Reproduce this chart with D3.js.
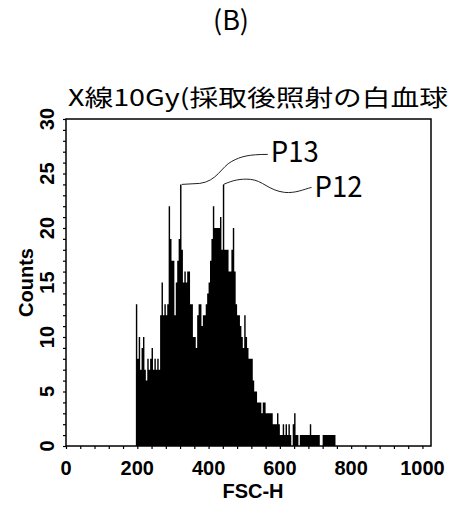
<!DOCTYPE html>
<html>
<head>
<meta charset="utf-8">
<script src="https://cdn.jsdelivr.net/npm/d3@7.9.0/dist/d3.min.js"></script>
<style>
  html, body { margin: 0; padding: 0; background: #fff; }
  svg { display: block; }
  .tick-label { font-family: "Liberation Sans", Arial, sans-serif; font-size: 20px; font-weight: bold; fill: #000; }
  .jp { font-family: "Noto Sans CJK JP", sans-serif; fill: #000; }
</style>
</head>
<body>
<svg id="chart" width="451" height="508"></svg>
<script>
// histogram of FSC-H, bins 4 channels wide starting at 196
const binWidth = 4;
const binStarts = d3.range(196, 756, binWidth);
const counts = [
  13, 8, 10, 7, 9, 10, 7, 6, 8, 7, 8, 9, 7, 8, 7, 8, 7, 12, 15, 12,
  13, 12, 13, 22, 19, 17, 17, 12, 15, 17, 19, 24, 18, 15, 16, 15, 16, 16, 13, 13,
  10, 10, 9, 12, 13, 13, 11, 12, 12, 13, 14, 15, 17, 19, 22, 20, 20, 20, 20, 21,
  18, 24, 18, 18, 18, 16, 16, 18, 20, 16, 13, 12, 12, 11, 10, 9, 12, 10, 9, 8,
  8, 8, 6, 5, 5, 4, 4, 4, 3, 4, 4, 3, 3, 3, 3, 3, 2, 2, 2, 3,
  2, 1, 1, 2, 1, 2, 1, 2, 1, 0, 2, 3, 1, 1, 0, 1, 1, 1, 1, 1,
  1, 1, 2, 1, 1, 1, 1, 1, 1, 0, 0, 1, 1, 1, 1, 1, 1, 1, 1, 1
];
const xTicks = [0, 200, 400, 600, 800, 1000];
const yTicks = [0, 5, 10, 15, 20, 25, 30];
const peaks = [
  { label: 'P13', at: 320 },
  { label: 'P12', at: 440 }
];

const bins = binStarts.map((s, i) => ({ x0: s, x1: s + binWidth, n: counts[i] }));

const svg = d3.select('#chart');
const plotL = 66, plotR = 431, plotT = 119, plotB = 446;

const x = d3.scaleLinear().domain([0, 1024]).range([plotL, plotR]);
const y = d3.scaleLinear().domain([0, 30]).range([plotB, plotT]);

// title lines
svg.append('text').attr('class', 'jp')
  .attr('x', 231).attr('y', 30)
  .attr('text-anchor', 'middle')
  .style('font-size', '27px')
  .text('(B)');

svg.append('text').attr('class', 'jp')
  .attr('x', 68).attr('y', 106)
  .attr('textLength', 380).attr('lengthAdjust', 'spacingAndGlyphs')
  .style('font-size', '23px')
  .text('X線10Gy(採取後照射の白血球');

// histogram as a step area
let pts = [];
bins.forEach((b) => {
  pts.push([b.x0, b.n]);
  pts.push([b.x1, b.n]);
});
const area = d3.area()
  .x((d) => x(d[0]))
  .y0(y(0))
  .y1((d) => y(d[1]));
svg.append('path')
  .attr('d', area(pts))
  .attr('fill', '#000');

// frame
svg.append('rect')
  .attr('x', plotL).attr('y', plotT)
  .attr('width', plotR - plotL).attr('height', plotB - plotT)
  .attr('fill', 'none').attr('stroke', '#000').attr('stroke-width', 1.5);

// x axis
const xAxis = d3.axisBottom(x)
  .tickValues(d3.range(0, 1001, 40))
  .tickSize(3)
  .tickFormat('');
const gx = svg.append('g').attr('transform', `translate(0,${plotB})`).call(xAxis);
gx.select('.domain').remove();
gx.selectAll('line').attr('stroke', '#000').attr('stroke-width', 1.2);

svg.selectAll('.xlab').data(xTicks).join('text')
  .attr('class', 'tick-label')
  .attr('x', (d) => x(d)).attr('y', 475)
  .attr('text-anchor', 'middle')
  .text((d) => d);

svg.append('text').attr('class', 'tick-label')
  .attr('x', 253).attr('y', 498)
  .attr('text-anchor', 'middle')
  .text('FSC-H');

// y axis
const yAxis = d3.axisLeft(y)
  .tickValues(d3.range(0, 31, 1))
  .tickSize(3)
  .tickFormat('');
const gy = svg.append('g').attr('transform', `translate(${plotL},0)`).call(yAxis);
gy.select('.domain').remove();
gy.selectAll('line').attr('stroke', '#000').attr('stroke-width', 1.2);

svg.selectAll('.ylab').data(yTicks).join('text')
  .attr('class', 'tick-label')
  .attr('transform', (d) => `translate(54,${y(d)}) rotate(-90)`)
  .attr('text-anchor', 'middle')
  .text((d) => d);

svg.append('text').attr('class', 'tick-label')
  .attr('transform', `translate(33,${(plotT + plotB) / 2}) rotate(-90)`)
  .attr('text-anchor', 'middle')
  .text('Counts');

// peak annotations
const p13 = peaks[0], p12 = peaks[1];
const n13 = counts[binStarts.indexOf(p13.at)];
const n12 = counts[binStarts.indexOf(p12.at)];
const ax = x(p13.at + 2), ay = y(n13);
const bx = x(p12.at + 2), by = y(n12);

svg.append('path')
  .attr('d', `M${ax + 1},${ay} L${ax + 19},${ay - 1} C${ax + 36},${ay - 3} ${ax + 41},${ay - 18} ${ax + 51},${ay - 23} C${ax + 60},${ay - 28} ${ax + 68},${ay - 30} ${ax + 87},${ay - 30}`)
  .attr('fill', 'none').attr('stroke', '#222').attr('stroke-width', 1);

svg.append('path')
  .attr('d', `M${bx},${by} C${bx + 9},${by - 4} ${bx + 17},${by - 6} ${bx + 27},${by - 5} C${bx + 39},${by - 4} ${bx + 45},${by + 6} ${bx + 61},${by + 8} C${bx + 72},${by + 9} ${bx + 80},${by + 5} ${bx + 88},${by + 3}`)
  .attr('fill', 'none').attr('stroke', '#222').attr('stroke-width', 1);

svg.append('text').attr('class', 'jp')
  .attr('x', ax + 90).attr('y', 162)
  .attr('textLength', 48).attr('lengthAdjust', 'spacingAndGlyphs')
  .style('font-size', '29px')
  .text(p13.label);

svg.append('text').attr('class', 'jp')
  .attr('x', bx + 91).attr('y', 197)
  .attr('textLength', 48).attr('lengthAdjust', 'spacingAndGlyphs')
  .style('font-size', '29px')
  .text(p12.label);
</script>
</body>
</html>
